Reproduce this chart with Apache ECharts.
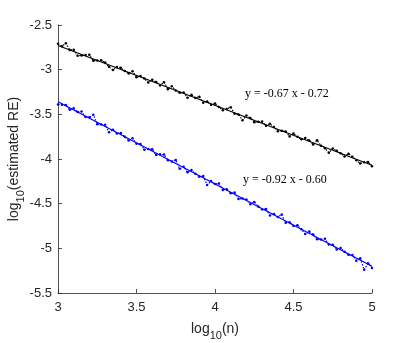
<!DOCTYPE html>
<html>
<head>
<meta charset="utf-8">
<script src="https://cdn.jsdelivr.net/npm/echarts@6/dist/echarts.min.js"></script>
<style>
  html, body { margin: 0; padding: 0; background: #fff; }
  #chart { width: 411px; height: 343px; }
</style>
</head>
<body>
<div id="chart"></div>
<script>
// log10(n)
var xVals = [3, 3.025, 3.05, 3.075, 3.1, 3.125, 3.15, 3.175, 3.2, 3.225,
  3.25, 3.275, 3.3, 3.325, 3.35, 3.375, 3.4, 3.425, 3.45, 3.475,
  3.5, 3.525, 3.55, 3.575, 3.6, 3.625, 3.65, 3.675, 3.7, 3.725,
  3.75, 3.775, 3.8, 3.825, 3.85, 3.875, 3.9, 3.925, 3.95, 3.975,
  4, 4.025, 4.05, 4.075, 4.1, 4.125, 4.15, 4.175, 4.2, 4.225,
  4.25, 4.275, 4.3, 4.325, 4.35, 4.375, 4.4, 4.425, 4.45, 4.475,
  4.5, 4.525, 4.55, 4.575, 4.6, 4.625, 4.65, 4.675, 4.7, 4.725,
  4.75, 4.775, 4.8, 4.825, 4.85, 4.875, 4.9, 4.925, 4.95, 4.975, 5];

// estimated RE, black series
var blackVals = [-2.710, -2.737, -2.705, -2.780, -2.777, -2.844, -2.841, -2.837, -2.834, -2.901,
  -2.898, -2.894, -2.921, -2.968, -3.005, -2.971, -2.978, -3.015, -3.042, -3.018,
  -3.085, -3.072, -3.099, -3.145, -3.112, -3.139, -3.176, -3.140, -3.219, -3.186,
  -3.233, -3.259, -3.256, -3.313, -3.280, -3.316, -3.303, -3.370, -3.357, -3.393,
  -3.380, -3.417, -3.454, -3.440, -3.420, -3.494, -3.501, -3.565, -3.514, -3.541,
  -3.588, -3.584, -3.581, -3.628, -3.605, -3.641, -3.688, -3.685, -3.692, -3.748,
  -3.715, -3.752, -3.779, -3.765, -3.792, -3.839, -3.790, -3.852, -3.879, -3.930,
  -3.883, -3.909, -3.936, -3.973, -3.940, -3.976, -4.013, -4.050, -4.037, -4.033, -4.080];

// estimated RE, blue series
var blueVals = [-3.390, -3.393, -3.396, -3.449, -3.432, -3.475, -3.468, -3.531, -3.534, -3.505,
  -3.610, -3.613, -3.616, -3.700, -3.672, -3.715, -3.708, -3.751, -3.794, -3.767,
  -3.830, -3.833, -3.896, -3.889, -3.892, -3.955, -3.948, -3.951, -4.014, -4.027,
  -4.010, -4.110, -4.086, -4.149, -4.122, -4.165, -4.198, -4.191, -4.290, -4.247,
  -4.280, -4.273, -4.346, -4.339, -4.382, -4.375, -4.448, -4.441, -4.454, -4.507,
  -4.480, -4.533, -4.566, -4.559, -4.632, -4.615, -4.648, -4.620, -4.714, -4.707,
  -4.750, -4.743, -4.786, -4.839, -4.812, -4.845, -4.898, -4.901, -4.894, -4.957,
  -4.960, -5.013, -4.996, -5.039, -5.072, -5.075, -5.138, -5.111, -5.240, -5.167, -5.220];

// fitted lines (end points)
var fitX = [3, 5];
var blackFit = [-2.73, -4.07];
var blueFit = [-3.36, -5.20];

var blackLabel = 'y = -0.67 x - 0.72';
var blueLabel = 'y = -0.92 x - 0.60';

function pairs(xs, ys) {
  return xs.map(function (x, i) { return [x, ys[i]]; });
}

var axisColor = '#262626';
var chart = echarts.init(document.getElementById('chart'));
chart.setOption({
  animation: false,
  grid: { left: 58, right: 39, top: 25, bottom: 50, containLabel: false, outerBoundsMode: 'none' },
  xAxis: {
    type: 'value',
    min: 3, max: 5, interval: 0.5,
    name: 'log{sub|10}(n)',
    nameLocation: 'middle',
    nameGap: 25,
    nameMoveOverlap: false,
    nameTextStyle: {
      color: axisColor, fontSize: 14, fontFamily: 'Liberation Sans',
      rich: { sub: { fontSize: 11, padding: [12, 0, 0, 0], color: axisColor, fontFamily: 'Liberation Sans' } }
    },
    axisLine: { lineStyle: { color: axisColor, width: 0.8 } },
    axisTick: { inside: true, length: 4, lineStyle: { color: axisColor, width: 0.8 } },
    axisLabel: { color: axisColor, fontSize: 13, fontFamily: 'Liberation Sans', margin: 8 },
    splitLine: { show: false }
  },
  yAxis: {
    type: 'value',
    min: -5.5, max: -2.5, interval: 0.5,
    name: 'log{sub|10}(estimated RE)',
    nameLocation: 'middle',
    nameRotate: 90,
    nameGap: 32,
    nameMoveOverlap: false,
    nameTextStyle: {
      color: axisColor, fontSize: 14, fontFamily: 'Liberation Sans',
      rich: { sub: { fontSize: 11, padding: [12, 0, 0, 0], color: axisColor, fontFamily: 'Liberation Sans' } }
    },
    axisLine: { show: true, lineStyle: { color: axisColor, width: 0.8 } },
    axisTick: { show: true, inside: true, length: 4, lineStyle: { color: axisColor, width: 0.8 } },
    axisLabel: { color: axisColor, fontSize: 13, fontFamily: 'Liberation Sans', margin: 6 },
    splitLine: { show: false }
  },
  series: [
    {
      type: 'line',
      data: pairs(xVals, blackVals),
      symbol: 'circle', symbolSize: 2.5,
      itemStyle: { color: '#000' },
      lineStyle: { color: '#000', width: 1.2, type: [1.5, 1.5] }
    },
    {
      type: 'line',
      data: pairs(fitX, blackFit),
      symbol: 'none',
      lineStyle: { color: '#000', width: 1.2 }
    },
    {
      type: 'line',
      data: pairs(xVals, blueVals),
      symbol: 'circle', symbolSize: 2.5,
      itemStyle: { color: '#0000ff' },
      lineStyle: { color: '#0000ff', width: 1.2, type: [1.5, 1.5] }
    },
    {
      type: 'line',
      data: pairs(fitX, blueFit),
      symbol: 'none',
      lineStyle: { color: '#0000ff', width: 1.2 }
    }
  ],
  graphic: [
    { type: 'text', left: 245, top: 88, style: { text: blackLabel, fill: '#000', font: '12px "Liberation Serif"' } },
    { type: 'text', left: 243, top: 174, style: { text: blueLabel, fill: '#000', font: '12px "Liberation Serif"' } }
  ]
});
</script>
</body>
</html>
